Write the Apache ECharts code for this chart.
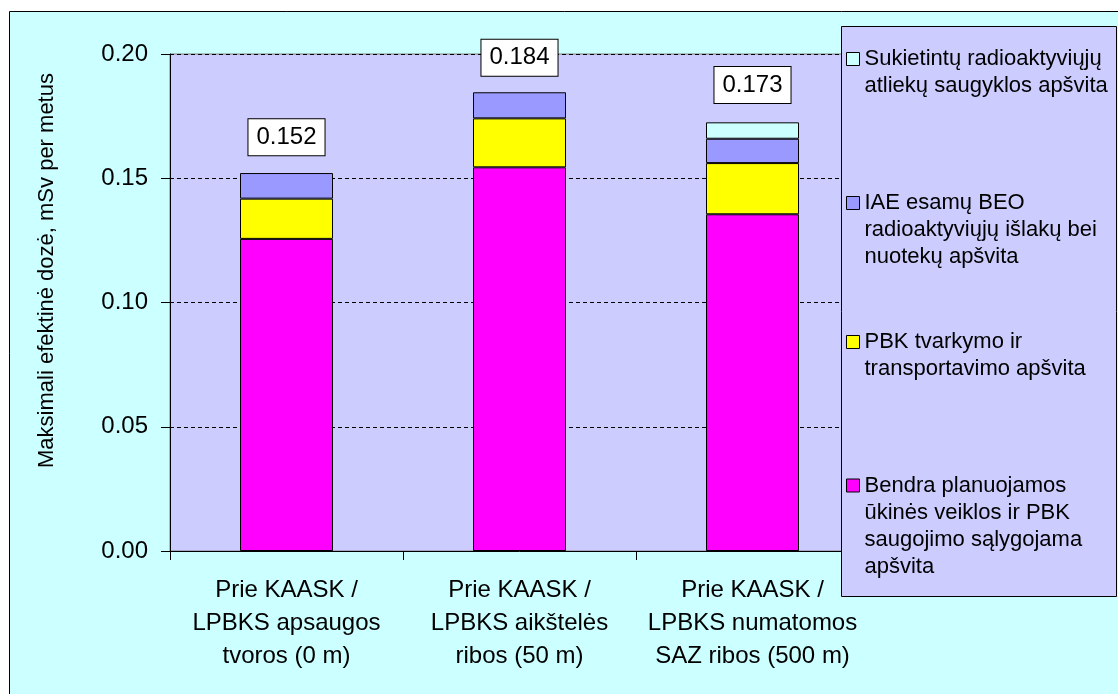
<!DOCTYPE html>
<html>
<head>
<meta charset="utf-8">
<script src="https://cdn.jsdelivr.net/npm/echarts@6/dist/echarts.min.js"></script>
<style>
  html, body { margin: 0; padding: 0; background: #ffffff; }
  #chart { width: 1118px; height: 694px; }
</style>
</head>
<body>
<div id="chart"></div>
<script>
// ---- data ----
const categories = [
  'Prie KAASK /\nLPBKS apsaugos\ntvoros (0 m)',
  'Prie KAASK /\nLPBKS aikštelės\nribos (50 m)',
  'Prie KAASK /\nLPBKS numatomos\nSAZ ribos (500 m)'
];
const seriesNames = [
  'Bendra planuojamos ūkinės veiklos ir PBK saugojimo sąlygojama apšvita',
  'PBK tvarkymo ir transportavimo apšvita',
  'IAE esamų BEO radioaktyviųjų išlakų bei nuotekų apšvita',
  'Sukietintų radioaktyviųjų atliekų saugyklos apšvita'
];
const legendLines = [
  ['Bendra planuojamos', 'ūkinės veiklos ir PBK', 'saugojimo sąlygojama', 'apšvita'],
  ['PBK tvarkymo ir', 'transportavimo apšvita'],
  ['IAE esamų BEO', 'radioaktyviųjų išlakų bei', 'nuotekų apšvita'],
  ['Sukietintų radioaktyviųjų', 'atliekų saugyklos apšvita']
];
const bendra = [0.1256, 0.1544, 0.1355];
const pbk = [0.0162, 0.0197, 0.0206];
const iae = [0.0103, 0.0105, 0.0098];
const sukietintu = [null, null, 0.0066];
const totals = [0.152, 0.184, 0.173];

// ---- styles ----
const FONT = 'Liberation Sans, Arial, sans-serif';
const colors = ['#FF00FF', '#FFFF00', '#9999FF', '#CCFFFF'];
const seriesValues = [bendra, pbk, iae, sukietintu];
const legendCenters = [485.5, 342, 203, 59];
const LH = 27;

const chart = echarts.init(document.getElementById('chart'), null, { renderer: 'canvas' });

const barSeries = seriesValues.map((vals, i) => ({
  name: seriesNames[i],
  type: 'bar',
  stack: 'dose',
  barWidth: 93,
  data: vals.map(v => (v === null ? '-' : v)),
  itemStyle: { color: colors[i], borderColor: '#000000', borderWidth: 1 },
  emphasis: { disabled: true },
  z: 2
}));

const legends = seriesNames.map((name, i) => {
  const n = legendLines[i].length;
  const pre = new Array(n - 1).fill(' ');
  return {
    data: [name],
    orient: 'vertical',
    left: 846,
    top: legendCenters[i] - (2 * n - 1) * LH / 2,
    padding: 0,
    itemWidth: 13,
    itemHeight: 13,
    itemGap: 8,
    icon: 'rect',
    selectedMode: false,
    itemStyle: { borderColor: '#000000', borderWidth: 1 },
    formatter: () => pre.concat(legendLines[i]).join('\n'),
    textStyle: { fontFamily: FONT, fontSize: 22, color: '#000000', lineHeight: LH },
    z: 10
  };
});

const option = {
  backgroundColor: '#ffffff',
  animation: false,
  graphic: [
    {
      type: 'rect', z: -10, silent: true,
      shape: { x: 9.5, y: 11.5, width: 1130, height: 710 },
      style: { fill: '#CCFFFF', stroke: '#000000', lineWidth: 1 }
    },
    {
      type: 'rect', z: 8, silent: true,
      shape: { x: 841.5, y: 26.5, width: 275, height: 570 },
      style: { fill: '#CCCCFF', stroke: '#000000', lineWidth: 1 }
    }
  ],
  grid: {
    left: 170, top: 54, right: 249, bottom: 143,
    show: true, backgroundColor: '#CCCCFF', borderColor: '#808080', borderWidth: 1
  },
  legend: legends,
  xAxis: {
    type: 'category',
    data: categories,
    axisLine: { lineStyle: { color: '#000000', width: 1 } },
    axisTick: { show: true, length: 9, inside: false, alignWithLabel: false, lineStyle: { color: '#000000' } },
    axisLabel: { fontFamily: FONT, fontSize: 24, color: '#000000', lineHeight: 33, margin: 23, interval: 0 },
    splitLine: { show: false }
  },
  yAxis: {
    type: 'value',
    min: 0, max: 0.2, interval: 0.05,
    name: 'Maksimali efektinė dozė, mSv per metus',
    nameLocation: 'middle',
    nameGap: 112,
    nameRotate: 90,
    nameTextStyle: { fontFamily: FONT, fontSize: 22, color: '#000000', padding: [0, 0, 0, 64] },
    axisLine: { show: true, lineStyle: { color: '#000000', width: 1 } },
    axisTick: { show: true, length: 9, inside: false, lineStyle: { color: '#000000' } },
    axisLabel: {
      fontFamily: FONT, fontSize: 24, color: '#000000', margin: 22,
      formatter: v => v.toFixed(2)
    },
    splitLine: { show: true, lineStyle: { color: '#000000', type: [4, 3], width: 1 } }
  },
  series: barSeries.concat([{
    name: 'total',
    type: 'scatter',
    data: totals,
    symbol: 'circle',
    symbolSize: 0,
    itemStyle: { color: '#000000' },
    emphasis: { disabled: true },
    silent: true,
    z: 5,
    label: {
      show: true, position: 'top', distance: 18,
      formatter: p => totals[p.dataIndex].toFixed(3),
      fontFamily: FONT, fontSize: 24, color: '#000000', lineHeight: 28,
      backgroundColor: '#ffffff', borderColor: '#000000', borderWidth: 1,
      padding: [4, 8, 4, 8], opacity: 1
    }
  }])
};

chart.setOption(option);
</script>
</body>
</html>
